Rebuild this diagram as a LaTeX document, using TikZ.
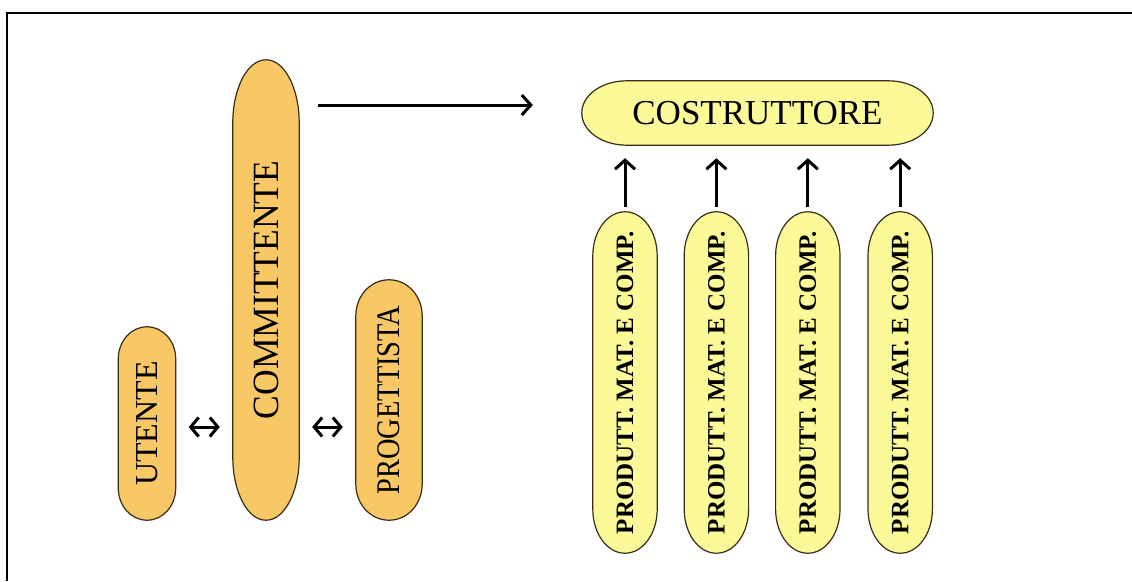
\documentclass[tikz,border=0pt]{standalone}
\usepackage{fontspec}
\setmainfont{Liberation Serif}
\usetikzlibrary{positioning,arrows.meta,backgrounds,calc}

\definecolor{pillorange}{RGB}{248,199,102}
\definecolor{pillyellow}{RGB}{252,250,152}
\definecolor{pillborder}{RGB}{55,45,25}

% outline with elliptic ends behind a node: name, fill, x radius, y radius
\newcommand\pill[4]{%
  \begin{scope}[on background layer]
    \path [draw=pillborder, line width=1.2pt, fill=#2] let \p1=(#1.north west), \p2=(#1.south east) in
      (\x1+#3,\y1) -- (\x2-#3,\y1)
      arc[start angle=90, end angle=0, x radius=#3, y radius=#4]
      -- (\x2,\y2+#4)
      arc[start angle=0, end angle=-90, x radius=#3, y radius=#4]
      -- (\x1+#3,\y2)
      arc[start angle=270, end angle=180, x radius=#3, y radius=#4]
      -- (\x1,\y1-#4)
      arc[start angle=180, end angle=90, x radius=#3, y radius=#4]
      -- cycle;
  \end{scope}}

\begin{document}
\begin{tikzpicture}[x=1pt, y=-1pt]
  \tikzstyle{tall} = [rectangle, inner sep=0pt, text centered]
  \tikzstyle{arrow} = [line width=3pt, -{Straight Barb[length=9pt,width=20pt]}]
  \tikzstyle{dblarrow} = [line width=3pt, {Straight Barb[length=8pt,width=19pt]}-{Straight Barb[length=8pt,width=19pt]}]

  \useasboundingbox (0,0) rectangle (1132,581);
  \draw [line width=2pt] (6.5,581) -- (6.5,12.5) -- (1132,12.5);

  \node (committente) [tall, minimum width=66pt, minimum height=460pt, font=\fontsize{37}{37}\selectfont] at (266,290) {\rotatebox{90}{\scalebox{0.96}[1]{COMMITTENTE}}};
  \node (utente) [tall, minimum width=57pt, minimum height=193pt, font=\fontsize{32}{32}\selectfont] at (147,423.5) {\rotatebox{90}{UTENTE}};
  \node (progettista) [tall, minimum width=66pt, minimum height=240pt, font=\fontsize{33}{33}\selectfont] at (389,400) {\rotatebox{90}{\scalebox{0.86}[1]{PROGETTISTA}}};

  \node (costruttore) [tall, minimum width=351pt, minimum height=64pt, font=\fontsize{35}{35}\selectfont] at (757.5,113) {COSTRUTTORE};

  \node (produtt-1) [tall, minimum width=64pt, minimum height=341pt, font=\fontsize{25}{25}\selectfont\bfseries] at (625,382.5) {\rotatebox{90}{PRODUTT. MAT. E COMP.}};
  \node (produtt-2) [tall, minimum width=64pt, minimum height=341pt, font=\fontsize{25}{25}\selectfont\bfseries, right=27pt of produtt-1] {\rotatebox{90}{PRODUTT. MAT. E COMP.}};
  \node (produtt-3) [tall, minimum width=64pt, minimum height=341pt, font=\fontsize{25}{25}\selectfont\bfseries, right=27pt of produtt-2] {\rotatebox{90}{PRODUTT. MAT. E COMP.}};
  \node (produtt-4) [tall, minimum width=64pt, minimum height=341pt, font=\fontsize{25}{25}\selectfont\bfseries, right=28pt of produtt-3] {\rotatebox{90}{PRODUTT. MAT. E COMP.}};

  \pill{committente}{pillorange}{33pt}{63pt}
  \pill{utente}{pillorange}{28.5pt}{32pt}
  \pill{progettista}{pillorange}{33pt}{36pt}
  \pill{costruttore}{pillyellow}{45pt}{32pt}
  \pill{produtt-1}{pillyellow}{32pt}{44pt}
  \pill{produtt-2}{pillyellow}{32pt}{44pt}
  \pill{produtt-3}{pillyellow}{32pt}{44pt}
  \pill{produtt-4}{pillyellow}{32pt}{44pt}

  \coordinate (level) at (0,427);

  \draw [arrow, shorten <=19pt, shorten >=49pt] ([yshift=8pt]committente.east |- costruttore.west) -- ([yshift=8pt]costruttore.west);
  \draw [arrow, shorten <=5pt, shorten >=13pt] (produtt-1.north) -- (produtt-1.north |- costruttore.south);
  \draw [arrow, shorten <=5pt, shorten >=13pt] (produtt-2.north) -- (produtt-2.north |- costruttore.south);
  \draw [arrow, shorten <=5pt, shorten >=13pt] (produtt-3.north) -- (produtt-3.north |- costruttore.south);
  \draw [arrow, shorten <=5pt, shorten >=13pt] (produtt-4.north) -- (produtt-4.north |- costruttore.south);
  \draw [dblarrow, shorten <=13pt, shorten >=13pt] (utente.east |- level) -- (committente.west |- level);
  \draw [dblarrow, shorten <=13pt, shorten >=13pt] (committente.east |- level) -- (progettista.west |- level);
\end{tikzpicture}
\end{document}
